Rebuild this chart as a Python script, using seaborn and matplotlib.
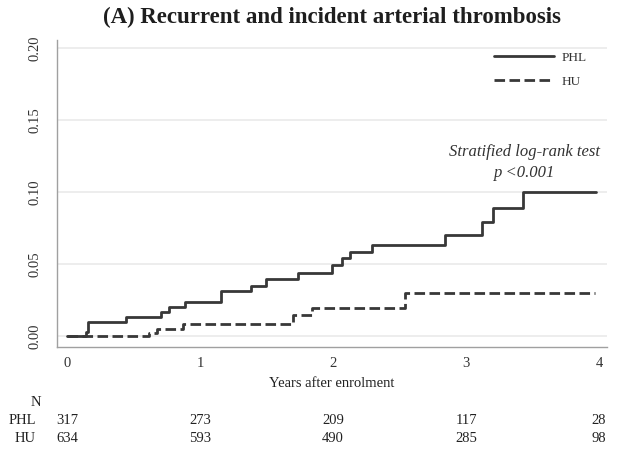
import matplotlib
matplotlib.use("Agg")
import matplotlib.pyplot as plt
from matplotlib.transforms import blended_transform_factory
import seaborn as sns
import pandas as pd

# Cumulative incidence step functions (time in years, cumulative incidence)
phl_time = [0.00, 0.14, 0.16, 0.44, 0.71, 0.77, 0.89, 1.16, 1.38, 1.50, 1.74,
            1.99, 2.07, 2.13, 2.29, 2.84, 3.12, 3.20, 3.43, 3.98]
phl_cuminc = [0.000, 0.003, 0.0097, 0.0132, 0.0167, 0.020, 0.0236, 0.031, 0.035,
              0.0396, 0.044, 0.049, 0.054, 0.058, 0.063, 0.070, 0.079, 0.089,
              0.100, 0.100]
hu_time = [0.00, 0.62, 0.68, 0.87, 1.70, 1.84, 2.54, 3.97]
hu_cuminc = [0.000, 0.002, 0.0049, 0.0083, 0.0146, 0.0194, 0.030, 0.030]

groups = ["PHL", "HU"]
x_ticks = [0, 1, 2, 3, 4]
y_ticks = [0.00, 0.05, 0.10, 0.15, 0.20]
y_tick_labels = ["0.00", "0.05", "0.10", "0.15", "0.20"]

# Numbers at risk at each x tick
phl_at_risk = [317, 273, 209, 117, 28]
hu_at_risk = [634, 593, 490, 285, 98]

df = pd.concat([
    pd.DataFrame({"time": phl_time, "cuminc": phl_cuminc, "group": "PHL"}),
    pd.DataFrame({"time": hu_time, "cuminc": hu_cuminc, "group": "HU"}),
])

sns.set_theme(style="white")
plt.rcParams["font.family"] = ["Liberation Serif", "DejaVu Serif"]

fig = plt.figure(figsize=(6.22, 4.5), dpi=100)
ax = fig.add_axes([57 / 622, 1 - 347 / 450, 550 / 622, 307 / 450])

line_color = "#383838"
sns.lineplot(data=df[df.group == "PHL"], x="time", y="cuminc", ax=ax,
             drawstyle="steps-post", color=line_color, lw=2.0,
             label="PHL", estimator=None)
sns.lineplot(data=df[df.group == "HU"], x="time", y="cuminc", ax=ax,
             drawstyle="steps-post", color=line_color, lw=2.0,
             linestyle=(0, (3.8, 1.6)), label="HU", estimator=None)

ax.set_xlim(-0.075, 4.06)
ax.set_ylim(-0.0076, 0.2055)
ax.set_xticks(x_ticks)
ax.set_xticklabels([str(v) for v in x_ticks])
ax.set_yticks(y_ticks)
ax.set_yticklabels(y_tick_labels, rotation=90, va="center")

for y in y_ticks:
    ax.axhline(y, color="#ececec", lw=1.3, zorder=0)

for side in ["top", "right"]:
    ax.spines[side].set_visible(False)
for side in ["left", "bottom"]:
    ax.spines[side].set_color("#a0a0a0")
    ax.spines[side].set_linewidth(1.0)

ax.tick_params(axis="both", which="major", length=4, width=0.8, color="#a0a0a0",
               labelsize=10.5, labelcolor="#333333")
ax.tick_params(axis="y", pad=7)
ax.tick_params(axis="x", pad=3)

ax.set_xlabel("Years after enrolment", fontsize=10.5, color="#222222", labelpad=5)
ax.set_ylabel("")

ax.set_title("(A) Recurrent and incident arterial thrombosis", fontsize=16.5,
             fontweight="bold", color="#1e1e1e", pad=12)

ax.text(3.44, 0.128, "Stratified log-rank test", fontsize=12, style="italic",
        ha="center", va="center", color="#333333")
ax.text(3.44, 0.1135, "p <0.001", fontsize=12, style="italic",
        ha="center", va="center", color="#333333")

leg = ax.legend(loc="upper right", frameon=False, fontsize=9.5, handlelength=4.5,
                handletextpad=0.6, labelspacing=0.85,
                bbox_to_anchor=(0.985, 1.0))
for t in leg.get_texts():
    t.set_color("#333333")

# Number-at-risk table under the axis
trans = blended_transform_factory(ax.transData, fig.transFigure)
row_y = [1 - 420 / 450, 1 - 439 / 450]
fig.text(36 / 622, 1 - 402 / 450, "N", fontsize=10.5, ha="center", va="center",
         color="#222222")
for name, counts, yy in zip(groups, [phl_at_risk, hu_at_risk], row_y):
    fig.text(36 / 622, yy, name, fontsize=10.5, ha="right", va="center",
             color="#222222")
    for xv, c in zip(x_ticks, counts):
        ax.text(xv, yy, str(c), transform=trans, fontsize=10.5, ha="center",
                va="center", color="#222222")

fig.savefig("out.png", dpi=100, facecolor="white")
